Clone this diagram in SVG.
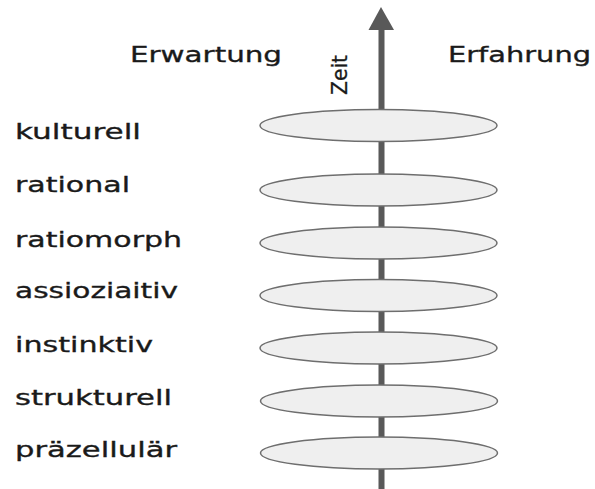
<svg xmlns="http://www.w3.org/2000/svg" width="595" height="489" viewBox="0 0 595 489">
<style>
.lbl{font-family:"DejaVu Sans","Liberation Sans",sans-serif;font-size:22px;fill:#1a1a1a;stroke:#1a1a1a;stroke-width:0.35}
.zeit{font-family:"DejaVu Sans","Liberation Sans",sans-serif;font-size:21px;fill:#1a1a1a;stroke:#1a1a1a;stroke-width:0.3}
.disc{fill:#efefef;stroke:#6e6e6e;stroke-width:1.5}
.axis{stroke:#595959;stroke-width:6;fill:none}
</style>
<rect width="595" height="489" fill="#ffffff"/>
<g id="connectors">
<line class="axis" x1="381.5" y1="28" x2="381.5" y2="489"/>
<polygon points="381,7 368.5,30 394,30" fill="#595959"/>
</g>
<g id="disc-kulturell"><ellipse class="disc" cx="378.5" cy="125.5" rx="118.5" ry="16"/></g>
<g id="disc-rational"><ellipse class="disc" cx="378.5" cy="190" rx="118.5" ry="16"/></g>
<g id="disc-ratiomorph"><ellipse class="disc" cx="378.5" cy="243" rx="118.5" ry="16"/></g>
<g id="disc-assioziaitiv"><ellipse class="disc" cx="378.5" cy="295.5" rx="118.5" ry="16"/></g>
<g id="disc-instinktiv"><ellipse class="disc" cx="378.5" cy="348" rx="118.5" ry="16"/></g>
<g id="disc-strukturell"><ellipse class="disc" cx="379" cy="401" rx="118.5" ry="16"/></g>
<g id="disc-praezellulaer"><ellipse class="disc" cx="379" cy="453" rx="118.5" ry="16"/></g>
<g id="header-erwartung"><text class="lbl" x="130" y="61.5" textLength="152" lengthAdjust="spacingAndGlyphs">Erwartung</text></g>
<g id="header-erfahrung"><text class="lbl" x="448" y="61.5" textLength="143" lengthAdjust="spacingAndGlyphs">Erfahrung</text></g>
<g id="label-zeit"><text class="zeit" transform="translate(346.5,95) rotate(-90)" x="0" y="0" textLength="40" lengthAdjust="spacingAndGlyphs">Zeit</text></g>
<g id="label-kulturell"><text class="lbl" x="15" y="139" textLength="126" lengthAdjust="spacingAndGlyphs">kulturell</text></g>
<g id="label-rational"><text class="lbl" x="15" y="192" textLength="115" lengthAdjust="spacingAndGlyphs">rational</text></g>
<g id="label-ratiomorph"><text class="lbl" x="15" y="246.5" textLength="167" lengthAdjust="spacingAndGlyphs">ratiomorph</text></g>
<g id="label-assioziaitiv"><text class="lbl" x="15" y="298" textLength="163" lengthAdjust="spacingAndGlyphs">assioziaitiv</text></g>
<g id="label-instinktiv"><text class="lbl" x="15" y="351.5" textLength="138" lengthAdjust="spacingAndGlyphs">instinktiv</text></g>
<g id="label-strukturell"><text class="lbl" x="15" y="405" textLength="157" lengthAdjust="spacingAndGlyphs">strukturell</text></g>
<g id="label-praezellulaer"><text class="lbl" x="15" y="456.5" textLength="162" lengthAdjust="spacingAndGlyphs">präzellulär</text></g>
</svg>
